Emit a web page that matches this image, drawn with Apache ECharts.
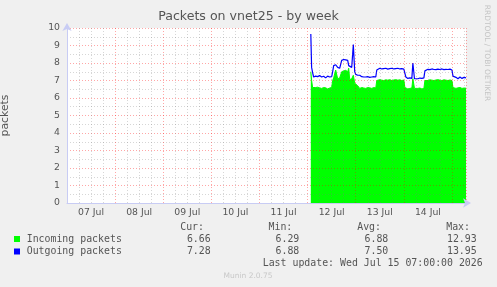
<!DOCTYPE html>
<html>
<head>
<meta charset="utf-8">
<script src="https://cdn.jsdelivr.net/npm/echarts@6/dist/echarts.min.js"></script>
<style>
  html, body { margin: 0; padding: 0; background: #f0f0f0; }
  #main { width: 497px; height: 287px; }
</style>
</head>
<body>
<div id="main"></div>
<script>
// x values are hours after 07 Jul 00:00
var dayLabels = ['07 Jul', '08 Jul', '09 Jul', '10 Jul', '11 Jul', '12 Jul', '13 Jul', '14 Jul'];
var hours = [121.6, 122, 122.5, 123, 124, 125, 126, 127, 128, 129, 130, 131, 132, 132.5, 133, 134, 135, 136, 137, 138,
  139, 140, 140.5, 141, 142, 142.8, 143.5, 144, 145, 146, 147, 148, 149, 150, 151, 152, 153, 154, 154.5, 155,
  156, 157, 158, 159, 160, 161, 162, 163, 164, 165, 166, 167, 168, 168.5, 169, 170, 171, 172, 172.5, 173.3,
  174, 175, 176, 177, 178, 178.5, 179, 180, 181, 182, 183, 184, 185, 186, 187, 188, 189, 190, 191, 192,
  192.5, 193, 194, 195, 196, 197, 198, 199];
var incoming = [7.5, 7.0, 6.6, 6.55, 6.6, 6.62, 6.58, 6.55, 6.6, 6.58, 6.52, 6.57, 6.6, 7.0, 7.15, 7.6, 7.1, 7.15, 7.5, 7.55,
  7.58, 7.5, 7.7, 7.05, 7.1, 7.3, 6.85, 6.8, 6.7, 6.55, 6.6, 6.57, 6.55, 6.6, 6.58, 6.55, 6.6, 6.57, 7.0, 7.03,
  7.05, 7.02, 7.0, 7.04, 7.02, 7.05, 7.0, 7.03, 7.05, 7.02, 7.04, 7.0, 7.03, 6.6, 6.55, 6.52, 6.55, 6.57, 7.1, 6.55,
  6.53, 6.55, 6.57, 6.52, 6.55, 7.0, 7.02, 7.0, 7.04, 7.02, 7.0, 7.03, 7.05, 7.02, 7.0, 7.04, 7.02, 7.0, 7.03, 7.0,
  6.6, 6.57, 6.55, 6.58, 6.6, 6.55, 6.57, 6.56];
var outgoing = [9.66, 7.75, 7.45, 7.2, 7.25, 7.22, 7.28, 7.2, 7.24, 7.15, 7.25, 7.2, 7.22, 7.5, 7.85, 7.9, 7.75, 7.7, 8.15, 8.2,
  8.18, 8.15, 7.85, 7.9, 7.75, 9.05, 7.5, 7.35, 7.3, 7.3, 7.22, 7.2, 7.2, 7.22, 7.18, 7.2, 7.22, 7.2, 7.6, 7.68,
  7.7, 7.66, 7.68, 7.7, 7.65, 7.68, 7.7, 7.66, 7.68, 7.7, 7.66, 7.68, 7.65, 7.6, 7.2, 7.12, 7.15, 7.12, 8.0, 7.1,
  7.12, 7.1, 7.14, 7.12, 7.15, 7.55, 7.62, 7.64, 7.62, 7.66, 7.63, 7.62, 7.65, 7.63, 7.66, 7.62, 7.64, 7.63, 7.65, 7.6,
  7.25, 7.15, 7.18, 7.1, 7.2, 7.12, 7.18, 7.15];
var statHeads = ['Cur:', 'Min:', 'Avg:', 'Max:'];
var inStats = ['6.66', '6.29', '6.88', '12.93'];
var outStats = ['7.28', '6.88', '7.50', '13.95'];

var txt = '#555';
var axisCol = '#c8ccf4';
var majorGrid = { color: 'rgba(255,0,0,0.35)', type: [1, 2], width: 1 };
var minorGrid = { color: 'rgba(120,120,120,0.3)', type: [1, 2], width: 1 };
var mono = 'DejaVu Sans Mono';

function pairs(vals) {
    return hours.map(function (h, i) { return [h, vals[i]]; });
}

var myChart = echarts.init(document.getElementById('main'));

var graphics = [
    { type: 'text', left: 'center', top: 10, style: { text: 'Packets on vnet25 - by week', fill: txt, font: '12.6px "DejaVu Sans"' } },
    { type: 'text', x: 487, y: 53, rotation: -Math.PI / 2,
      style: { text: 'RRDTOOL / TOBI OETIKER', fill: '#c4c4c4', font: '7.5px "DejaVu Sans"', textAlign: 'center', textVerticalAlign: 'middle' } },
    { type: 'rect', shape: { x: 14, y: 236, width: 6, height: 6 }, style: { fill: '#00ff00' } },
    { type: 'rect', shape: { x: 14, y: 248.5, width: 6, height: 6 }, style: { fill: '#0000ff' } },
    { type: 'text', x: 26.7, y: 239.5, style: { text: 'Incoming packets', fill: txt, font: '9.9px "' + mono + '"', textVerticalAlign: 'middle' } },
    { type: 'text', x: 26.7, y: 251.8, style: { text: 'Outgoing packets', fill: txt, font: '9.9px "' + mono + '"', textVerticalAlign: 'middle' } },
    { type: 'text', x: 482.7, y: 263.8, style: { text: 'Last update: Wed Jul 15 07:00:00 2026', fill: txt, font: '9.9px "' + mono + '"', textAlign: 'right', textVerticalAlign: 'middle' } },
    { type: 'text', x: 248, y: 276.5, style: { text: 'Munin 2.0.75', fill: '#c8c8c8', font: '7.5px "DejaVu Sans"', textAlign: 'center', textVerticalAlign: 'middle' } }
];
var headX = [204, 292.3, 381, 470];
var valX = [210.7, 299.3, 388.3, 476.7];
statHeads.forEach(function (h, i) {
    graphics.push({ type: 'text', x: headX[i], y: 227.8, style: { text: h, fill: txt, font: '9.9px "' + mono + '"', textAlign: 'right', textVerticalAlign: 'middle' } });
    graphics.push({ type: 'text', x: valX[i], y: 239.5, style: { text: inStats[i], fill: txt, font: '9.9px "' + mono + '"', textAlign: 'right', textVerticalAlign: 'middle' } });
    graphics.push({ type: 'text', x: valX[i], y: 251.8, style: { text: outStats[i], fill: txt, font: '9.9px "' + mono + '"', textAlign: 'right', textVerticalAlign: 'middle' } });
});

var option = {
    backgroundColor: '#f0f0f0',
    animation: false,
    grid: { left: 67, top: 28, width: 399, height: 175, show: true, backgroundColor: '#fff', borderWidth: 0,
            containLabel: false, outerBoundsMode: 'none' },
    xAxis: [
        {
            type: 'value', min: 0, max: 199, interval: 24, zlevel: 1,
            axisLine: { lineStyle: { color: axisCol }, symbol: ['none', 'arrow'], symbolSize: [7, 8], symbolOffset: [0, 5] },
            axisTick: { show: false }, axisLabel: { show: false },
            splitLine: { show: true, lineStyle: majorGrid },
            minorTick: { show: false, splitNumber: 4 },
            minorSplitLine: { show: true, lineStyle: minorGrid }
        },
        {
            type: 'value', min: 0, max: 199, interval: 12, position: 'bottom',
            axisLine: { show: false }, axisTick: { show: false }, splitLine: { show: false },
            axisLabel: {
                color: txt, fontFamily: 'DejaVu Sans', fontSize: 9.3, margin: 5,
                formatter: function (v) { return v % 24 === 12 ? dayLabels[(v - 12) / 24] : ''; }
            }
        }
    ],
    yAxis: {
        type: 'value', min: 0, max: 10, interval: 1, zlevel: 1,
        name: 'packets', nameLocation: 'middle', nameGap: 56,
        nameTextStyle: { color: txt, fontFamily: 'DejaVu Sans', fontSize: 10.8 },
        axisLine: { show: true, lineStyle: { color: axisCol }, symbol: ['none', 'arrow'], symbolSize: [7, 8], symbolOffset: [0, 5] },
        axisTick: { show: false },
        axisLabel: { color: txt, fontFamily: 'DejaVu Sans', fontSize: 9.3, margin: 7 },
        splitLine: { show: true, lineStyle: majorGrid },
        minorTick: { show: false, splitNumber: 2 },
        minorSplitLine: { show: true, lineStyle: minorGrid }
    },
    series: [
        {
            name: 'Incoming packets', type: 'line', data: pairs(incoming), showSymbol: false,
            lineStyle: { width: 1, color: '#00ff00' }, itemStyle: { color: '#00ff00' },
            areaStyle: { color: '#00ff00', opacity: 1 }
        },
        {
            name: 'Outgoing packets', type: 'line', data: pairs(outgoing), showSymbol: false,
            lineStyle: { width: 1.2, color: '#0000ff' }, itemStyle: { color: '#0000ff' }
        }
    ],
    graphic: graphics
};

myChart.setOption(option);
</script>
</body>
</html>
